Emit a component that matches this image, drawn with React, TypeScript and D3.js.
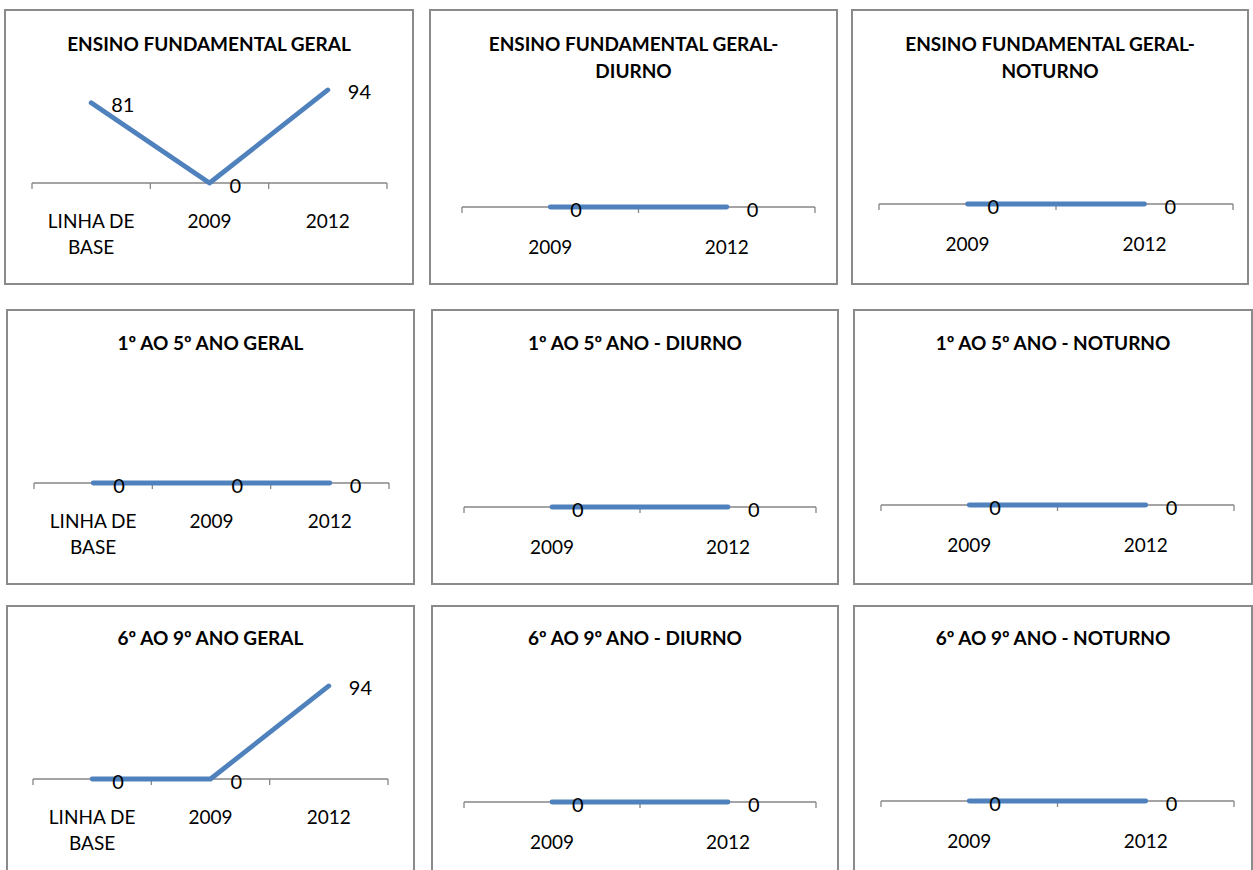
import React from "react";
import * as d3 from "d3";

// ---------- DATA ----------
const categoriesBase = ["LINHA DE BASE", "2009", "2012"];
const categoriesYears = ["2009", "2012"];

const titleEfGeral = ["ENSINO FUNDAMENTAL GERAL"];
const titleEfDiurno = ["ENSINO FUNDAMENTAL GERAL-", "DIURNO"];
const titleEfNoturno = ["ENSINO FUNDAMENTAL GERAL-", "NOTURNO"];
const title15Geral = ["1º AO 5º ANO GERAL"];
const title15Diurno = ["1º AO 5º ANO - DIURNO"];
const title15Noturno = ["1º AO 5º ANO - NOTURNO"];
const title69Geral = ["6º AO 9º ANO GERAL"];
const title69Diurno = ["6º AO 9º ANO - DIURNO"];
const title69Noturno = ["6º AO 9º ANO - NOTURNO"];

const valuesEfGeral = [81, 0, 94];
const valuesEfDiurno = [0, 0];
const valuesEfNoturno = [0, 0];
const values15Geral = [0, 0, 0];
const values15Diurno = [0, 0];
const values15Noturno = [0, 0];
const values69Geral = [0, 0, 94];
const values69Diurno = [0, 0];
const values69Noturno = [0, 0];

const charts = [
  { title: titleEfGeral, categories: categoriesBase, values: valuesEfGeral },
  { title: titleEfDiurno, categories: categoriesYears, values: valuesEfDiurno },
  { title: titleEfNoturno, categories: categoriesYears, values: valuesEfNoturno },
  { title: title15Geral, categories: categoriesBase, values: values15Geral },
  { title: title15Diurno, categories: categoriesYears, values: values15Diurno },
  { title: title15Noturno, categories: categoriesYears, values: values15Noturno },
  { title: title69Geral, categories: categoriesBase, values: values69Geral },
  { title: title69Diurno, categories: categoriesYears, values: values69Diurno },
  { title: title69Noturno, categories: categoriesYears, values: values69Noturno },
];

// ---------- LAYOUT ----------
// [x, y, width, height]
const panelBoxes = [
  [5, 10, 408, 274], [430, 10, 407, 274], [852, 10, 396, 274],
  [7, 310, 407, 274], [432, 310, 406, 274], [854, 310, 398, 274],
  [7, 606, 407, 274], [432, 606, 406, 274], [854, 606, 398, 274],
];
// [plotLeft, plotRight, axisY] relative to panel
const plotBoxes = [
  [27, 382, 173], [32, 385, 197], [27, 381, 194],
  [27, 382, 173], [32, 384, 197], [27, 380, 195],
  [26, 381, 173], [32, 384, 196], [27, 380, 195],
];
const titleOffsets = [33, 33, 33, 32, 32, 32, 31, 31, 31];

const FONT = "Lato, 'Open Sans', sans-serif";
const LINE_COLOR = "#4F81BD";
const AXIS_COLOR = "#868686";
const BORDER_COLOR = "#8a8a8a";

function wrapLabel(label: string, maxChars = 9): string[] {
  const words = label.split(" ");
  const lines: string[] = [];
  let cur = "";
  for (const w of words) {
    const next = cur ? cur + " " + w : w;
    if (next.length > maxChars && cur) {
      lines.push(cur);
      cur = w;
    } else cur = next;
  }
  if (cur) lines.push(cur);
  return lines;
}

function Panel({ chart, box, plot, titleY }: any) {
  const [px, py, pw, ph] = box;
  const [left, right, axisY] = plot;
  const three = chart.categories.length === 3;
  const x = d3.scaleBand<string>().domain(chart.categories).range([left, right]).paddingInner(0).paddingOuter(0);
  const y = three
    ? d3.scaleLinear().domain([0, 100]).range([axisY, axisY - 99])
    : d3.scaleLinear().domain([0, 1]).range([axisY, axisY - 100]);
  const cx = (c: string) => (x(c) as number) + x.bandwidth() / 2;
  const pts = chart.categories.map((c: string, i: number) => [cx(c), y(chart.values[i])] as [number, number]);
  const line = d3.line<[number, number]>().x((d) => d[0]).y((d) => d[1]);
  const tickXs = [...chart.categories.map((c: string) => x(c) as number), right];
  const labelOffset = three ? 37 : 39;

  return (
    <g transform={`translate(${px},${py})`}>
      <rect x={0} y={0} width={pw} height={ph} fill="#fff" stroke={BORDER_COLOR} strokeWidth={2} />
      {chart.title.map((t: string, i: number) => (
        <text key={i} x={pw / 2} y={titleY + i * 27} textAnchor="middle" dominantBaseline="central"
          fontFamily={FONT} fontWeight={700} fontSize={19} fill="#000">{t}</text>
      ))}
      <line x1={left} x2={right} y1={axisY} y2={axisY} stroke={AXIS_COLOR} strokeWidth={1.3} />
      {tickXs.map((tx: number, i: number) => (
        <line key={i} x1={tx} x2={tx} y1={axisY} y2={axisY + 6} stroke={AXIS_COLOR} strokeWidth={1.3} />
      ))}
      {chart.categories.map((c: string) =>
        wrapLabel(c).map((ln, j) => (
          <text key={c + j} x={cx(c)} y={axisY + labelOffset + j * 26} textAnchor="middle" dominantBaseline="central"
            fontFamily={FONT} fontSize={19} fill="#000">{ln}</text>
        ))
      )}
      <path d={line(pts) as string} fill="none" stroke={LINE_COLOR} strokeWidth={4.8} strokeLinecap="round" strokeLinejoin="round" />
      {pts.map((p: [number, number], i: number) => (
        <text key={i} x={p[0] + 20} y={p[1] + 1.5} textAnchor="start" dominantBaseline="central"
          fontFamily={FONT} fontSize={20} fill="#000">{chart.values[i]}</text>
      ))}
    </g>
  );
}

export default function App() {
  return (
    <svg width={1253} height={870} style={{ position: "absolute", left: 0, top: 0 }}>
      <rect x={0} y={0} width={1253} height={870} fill="#fff" />
      {charts.map((c, i) => (
        <Panel key={i} chart={c} box={panelBoxes[i]} plot={plotBoxes[i]} titleY={titleOffsets[i]} />
      ))}
    </svg>
  );
}
